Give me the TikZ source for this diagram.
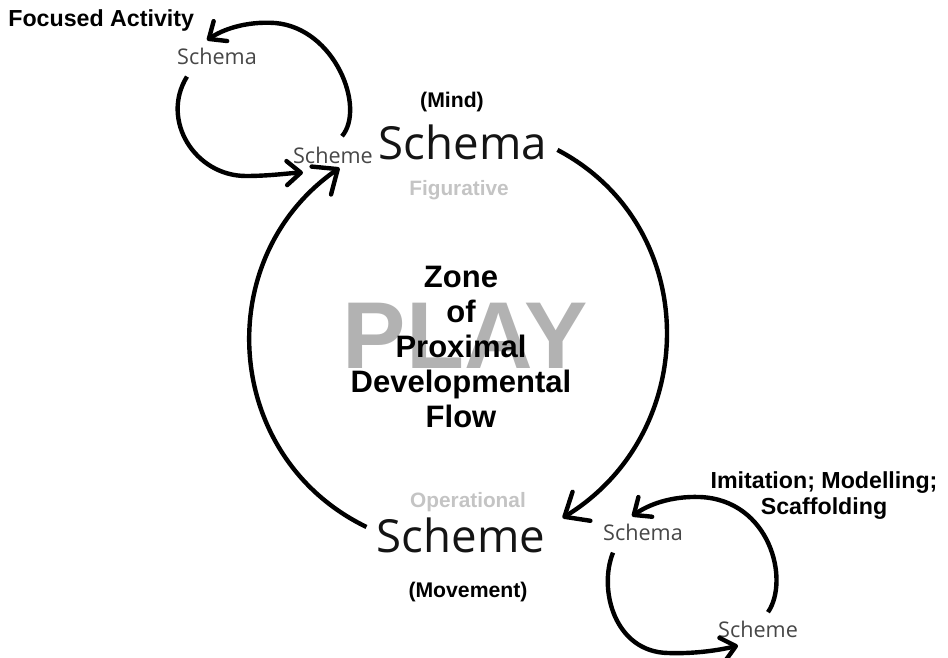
\documentclass[tikz,border=0pt]{standalone}
\usepackage{fontspec}
\setmainfont{Liberation Sans}
\newfontfamily\humanist{Open Sans}
\usetikzlibrary{arrows.meta}

\newcommand*{\picw}{948}
\newcommand*{\pich}{658}

\begin{document}
\begin{tikzpicture}
[
	x=0.5pt,y=-0.5pt,inner sep=1pt,
	bigword/.style={font=\humanist\fontsize{22.8}{27}\selectfont,text=black!92},
	smallword/.style={font=\humanist\fontsize{10.8}{13}\selectfont,text=black!72},
	faint/.style={font=\bfseries\fontsize{10.4}{12.5}\selectfont,text=black!23},
	tag/.style={font=\bfseries\fontsize{10.6}{12.5}\selectfont},
	caption/.style={font=\bfseries\fontsize{11.6}{13}\selectfont,align=center},
	flowarrow/.style={line width=2.2pt,-{Straight Barb[length=10pt,width=17pt,round]}},
	looparrow/.style={line width=2.2pt,-{Straight Barb[length=7pt,width=12pt,round]}}
]

	\useasboundingbox (0,0) rectangle (\picw,\pich);

	% centre
	\node[font=\bfseries\fontsize{47.5}{50}\selectfont,text=black!30,anchor=base] at (465,368) (play) {PLAY};
	\node[font=\bfseries\fontsize{15.5}{17.5}\selectfont,align=center] at (461,347) (zone) {Zone\\of\\Proximal\\Developmental\\Flow};

	% main words
	\node[bigword,anchor=base] at (463,160) (schema) {Schema};
	\node[bigword,anchor=base] at (461,552) (scheme) {Scheme};
	\node[faint,anchor=base] at (459,195) (fig) {Figurative};
	\node[faint,anchor=base] at (468,507) (oper) {Operational};
	\node[tag,anchor=base] at (452,108) (mind) {(Mind)};
	\node[tag,anchor=base] at (468,597) (move) {(Movement)};

	% small loops
	\node[smallword,anchor=base] at (217,65) (fschema) {Schema};
	\node[smallword,anchor=base] at (333,163) (fscheme) {Scheme};
	\node[smallword,anchor=base] at (643,540) (ischema) {Schema};
	\node[smallword,anchor=base] at (758,637) (ischeme) {Scheme};
	\node[caption,anchor=base west] at (6,27) (focus) {Focused Activity};
	\node[caption] at (824,496) (imit) {Imitation; Modelling;\\Scaffolding};

	% big cycle
	\draw[flowarrow] ([shift={(8,7)}]schema.east) .. controls (702,226) and (702,432) .. ([shift={(15,3)}]scheme.north east);
	\draw[flowarrow] ([shift={(-8,12)}]scheme.north west) .. controls (222,457) and (210,258) .. ([shift={(-37,5)}]schema.south west);

	% loop at the top
	\draw[looparrow] ([shift={(9,-8)}]fscheme.north) .. controls (366,108) and (335,28) .. (275,23) .. controls (245,21) and (222,30) .. ([shift={(-10,-6)}]fschema.north);
	\draw[looparrow] ([shift={(-30,9)}]fschema.south) .. controls (160,120) and (195,176) .. (246,176) .. controls (270,176) and (290,173) .. ([shift={(-30,7)}]fscheme.south);

	% loop at the bottom
	\draw[looparrow] ([shift={(10,-6)}]ischeme.north) .. controls (790,580) and (770,500) .. (700,497) .. controls (670,496) and (648,505) .. ([shift={(-11,-5)}]ischema.north);
	\draw[looparrow] ([shift={(-30,10)}]ischema.south) .. controls (598,590) and (615,652) .. (668,653) .. controls (695,654) and (720,650) .. ([shift={(-20,6)}]ischeme.south);

\end{tikzpicture}
\end{document}
